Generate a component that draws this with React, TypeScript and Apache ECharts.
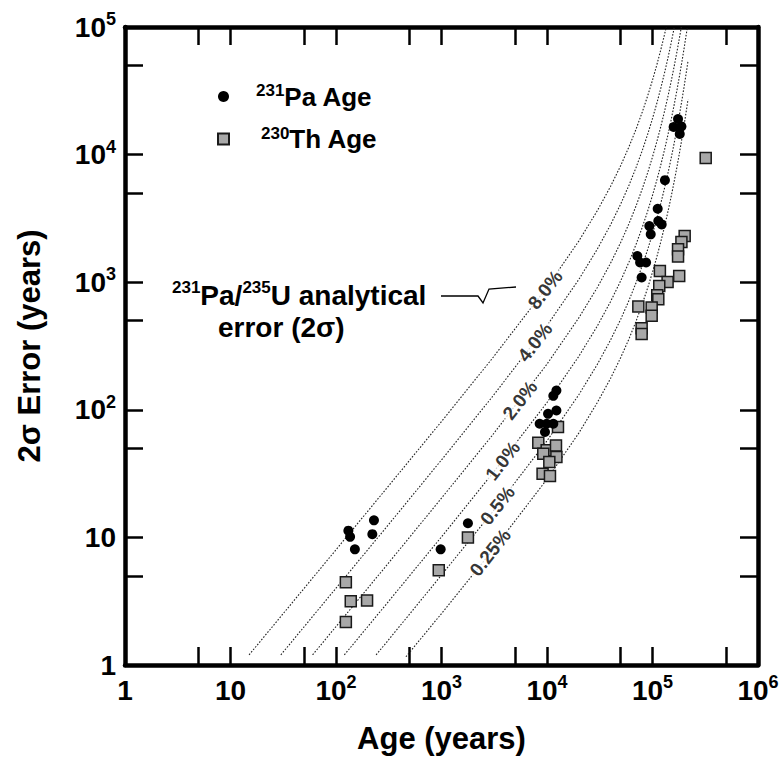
import React, { useEffect, useRef } from "react";
import * as echarts from "echarts";

// ---- data ----
const pa231Ages = [131, 136, 151, 229, 221, 982, 1780, 12280, 11480, 12280, 10230, 8520, 9930, 11480, 9570, 174600, 158600, 188000, 181300, 131200, 112000, 113500, 122200, 93300, 96200, 71800, 76300, 86900, 78900];
const pa231Errors = [11.3, 10.1, 8.06, 13.6, 10.6, 8.06, 12.9, 141.5, 128.6, 98.8, 93, 77.7, 77.7, 77.7, 67, 19000, 16450, 16640, 14520, 6300, 3765, 3013, 2838, 2754, 2371, 1604, 1426, 1426, 1088];

const th230Ages = [124, 138, 197, 124, 942, 1780, 12710, 8270, 9930, 12170, 9220, 12280, 10520, 9080, 10670, 201800, 188000, 174600, 174600, 117500, 179100, 139000, 115900, 110900, 113500, 73400, 98200, 98200, 78900, 78900, 319400];
const th230Errors = [4.45, 3.16, 3.2, 2.17, 5.53, 10, 73.2, 55.2, 48.1, 52.6, 45.3, 42.7, 39.0, 31.6, 30.3, 2300, 2065, 1811, 1588, 1225, 1120, 1005, 935, 791, 736, 646, 634, 545, 435, 392, 9420];

const curve8: number[][] = [[15, 1.2], [30, 2.4], [100, 8.0], [300, 24.1], [1000, 81], [3000, 250], [10000, 914], [20000, 2099], [30000, 3635], [40000, 5628], [50000, 8213], [60000, 11566], [70000, 15914], [80000, 21552], [90000, 28865], [100000, 38350], [110000, 50646], [120000, 66603], [130000, 87292], [135000, 100000]];
const curve4: number[][] = [[30, 1.2], [100, 4.0], [300, 12.0], [1000, 40.5], [3000, 125], [10000, 457], [20000, 1049], [30000, 1818], [40000, 2814], [50000, 4107], [60000, 5783], [70000, 7957], [80000, 10776], [90000, 14432], [100000, 19175], [110000, 25323], [120000, 33302], [130000, 43646], [140000, 57062], [150000, 74462], [161000, 100000]];
const curve2: number[][] = [[60, 1.2], [100, 2.0], [300, 6.0], [1000, 20.3], [3000, 62.4], [10000, 228], [20000, 525], [30000, 909], [40000, 1407], [50000, 2053], [60000, 2891], [70000, 3978], [80000, 5388], [90000, 7216], [100000, 9587], [110000, 12662], [120000, 16651], [130000, 21823], [140000, 28531], [150000, 37231], [160000, 48515], [170000, 63154], [180000, 82130], [187500, 100000]];
const curve1: number[][] = [[120, 1.2], [300, 3.0], [1000, 10.1], [3000, 31.2], [10000, 114], [20000, 262], [30000, 454], [40000, 704], [50000, 1027], [60000, 1446], [70000, 1989], [80000, 2694], [90000, 3608], [100000, 4794], [110000, 6331], [120000, 8325], [130000, 10912], [140000, 14265], [150000, 18615], [160000, 24258], [170000, 31577], [180000, 41065], [190000, 53373], [200000, 69335], [210000, 90039], [214000, 100000]];
const curve05: number[][] = [[240, 1.2], [300, 1.5], [1000, 5.07], [3000, 15.6], [10000, 57.1], [20000, 131], [30000, 227], [40000, 352], [50000, 513], [60000, 723], [70000, 995], [80000, 1347], [90000, 1804], [100000, 2397], [110000, 3165], [120000, 4163], [130000, 5456], [140000, 7133], [150000, 9308], [160000, 12129], [170000, 15788], [180000, 20533], [190000, 26687], [200000, 34668], [210000, 45019], [217000, 54045]];
const curve025: number[][] = [[460, 1.16], [1000, 2.53], [3000, 7.8], [10000, 28.6], [20000, 65.6], [30000, 114], [40000, 176], [50000, 257], [60000, 361], [70000, 497], [80000, 674], [90000, 902], [100000, 1198], [110000, 1583], [120000, 2081], [130000, 2728], [140000, 3566], [150000, 4654], [160000, 6064], [170000, 7894], [180000, 10266], [190000, 13343], [200000, 17334], [210000, 22510], [217000, 27022]];

const curveNames = ["8.0%", "4.0%", "2.0%", "1.0%", "0.5%", "0.25%"];
const curves = [curve8, curve4, curve2, curve1, curve05, curve025];
const curveLabelAges = [9600, 7700, 5550, 3800, 3400, 2900];
const curveLabelErrors = [872, 339, 119, 39.8, 17.8, 7.6];

const xTickValues = [5, 10, 50, 100, 500, 1000, 5000, 10000, 50000, 100000, 500000];
const xLabelValues = [1, 10, 100, 1000, 10000, 100000, 1000000];
const yTickValues = [5, 10, 50, 100, 500, 1000, 5000, 10000, 50000];
const yLabelValues = [1, 10, 100, 1000, 10000, 100000];

const X_MIN = 1, X_MAX = 1000000, Y_MIN = 1, Y_MAX = 100000;
const W = 782, H = 759;
const GRID = { left: 125, right: 24, top: 27, bottom: 92 };
const TICK_LEN = 18;

const FONT = "'Liberation Sans', Arial, Helvetica, sans-serif";

const powFmt = (v: number) => {
  const e = Math.round(Math.log10(v));
  if (e === 0) return "{b|1}";
  if (e === 1) return "{b|10}";
  return `{b|10}{sup|${e}}`;
};

const tickRich = {
  b: { fontSize: 28, fontWeight: "bold", fontFamily: FONT, color: "#000", lineHeight: 34 },
  sup: { fontSize: 18, fontWeight: "bold", fontFamily: FONT, color: "#000", lineHeight: 14, verticalAlign: "top" },
};

const axisLine = { show: true, onZero: false, lineStyle: { color: "#000", width: 4.5 } };
const tickStyle = { show: true, inside: true, length: TICK_LEN, lineStyle: { color: "#000", width: 2.5 } };

export default function App() {
  const ref = useRef<HTMLDivElement>(null);
  useEffect(() => {
    const chart = echarts.init(ref.current!, null, { renderer: "svg" });
    const lineSeries = curves.map((c, i) => ({
      type: "line",
      name: curveNames[i],
      data: c,
      symbol: "none",
      silent: true,
      z: 1,
      lineStyle: { color: "#222", width: 1.1, type: [1.6, 1.6] },
    }));
    const baseAxis = (pos: string, isX: boolean) => ({
      type: "log",
      logBase: 10,
      min: isX ? X_MIN : Y_MIN,
      max: isX ? X_MAX : Y_MAX,
      position: pos,
      axisLine,
      axisTick: { ...tickStyle, customValues: isX ? xTickValues : yTickValues },
      minorTick: { show: false },
      splitLine: { show: false },
      axisLabel: { show: false },
    });
    const option: any = {
      animation: false,
      backgroundColor: "#fff",
      grid: { ...GRID, containLabel: false },
      legend: {
        orient: "vertical",
        left: 212,
        top: 77,
        padding: 5,
        itemWidth: 11,
        itemHeight: 11,
        itemGap: 15,
        selectedMode: false,
        data: ["231Pa Age", "230Th Age"],
        formatter: (n: string) =>
          n === "231Pa Age" ? "{sp1|}{sup|231}{b|Pa Age}" : "{sp2|}{sup|230}{b|Th Age}",
        textStyle: {
          rich: {
            sp1: { width: 22 },
            sp2: { width: 27 },
            b: { fontSize: 26, fontWeight: "bold", fontFamily: FONT, color: "#000", lineHeight: 29 },
            sup: { fontSize: 17, fontWeight: "bold", fontFamily: FONT, color: "#000", lineHeight: 12, verticalAlign: "top" },
          },
        },
      },
      xAxis: [
        {
          ...baseAxis("bottom", true),
          axisLabel: { show: true, customValues: xLabelValues, formatter: powFmt, rich: tickRich, margin: 8 },
          name: "Age (years)",
          nameLocation: "middle",
          nameGap: 58,
          nameTextStyle: { fontSize: 31, fontWeight: "bold", fontFamily: FONT, color: "#000" },
        },
        baseAxis("top", true),
      ],
      yAxis: [
        {
          ...baseAxis("left", false),
          axisLabel: { show: true, customValues: yLabelValues, formatter: powFmt, rich: tickRich, margin: 9 },
          name: "2\u03c3 Error (years)",
          nameLocation: "middle",
          nameGap: 80,
          nameTextStyle: { fontSize: 31, fontWeight: "bold", fontFamily: FONT, color: "#000" },
        },
        baseAxis("right", false),
      ],
      series: [
        ...lineSeries,
        {
          type: "scatter",
          name: "curve labels",
          silent: true,
          z: 3,
          symbolSize: 1,
          itemStyle: { color: "rgba(0,0,0,0)" },
          data: curveLabelAges.map((a, i) => ({ name: curveNames[i], value: [a, curveLabelErrors[i]] })),
          label: {
            show: true,
            position: "inside",
            formatter: "{b}",
            rotate: 52,
            fontSize: 19,
            fontWeight: "bold",
            fontFamily: FONT,
            color: "#000",
            backgroundColor: "#fff",
            padding: [0, 2],
          },
        },
        {
          type: "scatter",
          name: "230Th Age",
          z: 4,
          symbol: "rect",
          symbolSize: 11,
          itemStyle: { color: "#a8a8a8", borderColor: "#1a1a1a", borderWidth: 1.5, opacity: 1 },
          data: th230Ages.map((a, i) => [a, th230Errors[i]]),
        },
        {
          type: "scatter",
          name: "231Pa Age",
          z: 5,
          symbol: "circle",
          symbolSize: 10,
          itemStyle: { color: "#000", opacity: 1 },
          data: pa231Ages.map((a, i) => [a, pa231Errors[i]]),
        },
      ],
      graphic: [
        {
          type: "text",
          x: 172,
          y: 295,
          style: {
            text: "{sup|231}{b|Pa/}{sup|235}{b|U analytical}",
            verticalAlign: "middle",
            align: "left",
            rich: {
              b: { fontSize: 28, fontWeight: "bold", fontFamily: FONT, fill: "#000", lineHeight: 32 },
              sup: { fontSize: 17, fontWeight: "bold", fontFamily: FONT, fill: "#000", lineHeight: 13, verticalAlign: "top" },
            },
          },
        },
        {
          type: "text",
          x: 218,
          y: 327,
          style: {
            text: "error (2\u03c3)",
            verticalAlign: "middle",
            align: "left",
            fontSize: 28,
            fontWeight: "bold",
            fontFamily: FONT,
            fill: "#000",
          },
        },
        {
          type: "polyline",
          shape: { points: [[441, 296], [478, 296], [483, 303], [489, 289], [516, 287]] },
          style: { stroke: "#000", lineWidth: 1.3, fill: null },
        },
      ],
    };
    chart.setOption(option);
    return () => chart.dispose();
  }, []);
  return <div ref={ref} style={{ position: "fixed", left: 0, top: 0, width: W, height: H }} />;
}
